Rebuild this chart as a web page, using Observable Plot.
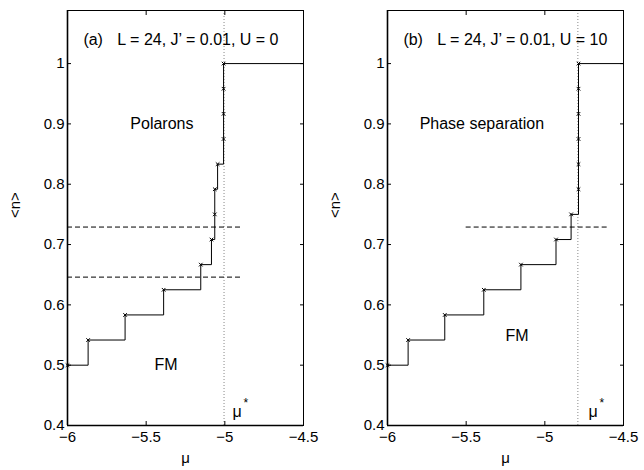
<!DOCTYPE html>
<html><head><meta charset="utf-8">
<script src="https://cdn.jsdelivr.net/npm/d3@7"></script>
<script src="https://cdn.jsdelivr.net/npm/@observablehq/plot@0.6"></script>
<style>
body{margin:0;background:#fff}
#wrap{display:flex;width:644px;height:470px}
</style>
</head><body><div id="wrap"></div>
<script>
// Panel (a): U = 0
const muA = [-6, -5.869, -5.634, -5.389, -5.153, -5.085, -5.064, -5.064, -5.046, -5.008, -5.008, -5.008, -5.008, -4.5];
const nA  = [0.5, 0.5417, 0.5833, 0.625, 0.6667, 0.7083, 0.75, 0.7917, 0.8333, 0.875, 0.9167, 0.9583, 1, 1];
const muStarA = -5.005;
const dashYA = [0.646, 0.729];
const dashXA = [-6, -4.9];
// Panel (b): U = 10
const muB = [-6, -5.869, -5.636, -5.388, -5.152, -4.929, -4.833, -4.786, -4.786, -4.786, -4.786, -4.786, -4.786, -4.5];
const nB  = [0.5, 0.5417, 0.5833, 0.625, 0.6667, 0.7083, 0.75, 0.7917, 0.8333, 0.875, 0.9167, 0.9583, 1, 1];
const muStarB = -4.79;
const dashYB = [0.729];
const dashXB = [-5.5, -4.6];

const xTicks = [-6, -5.5, -5, -4.5];
const yTicks = [0.4, 0.5, 0.6, 0.7, 0.8, 0.9, 1];
const xDomain = [-6, -4.5];
const yDomain = [0.4, 1.088];

const font = "'Liberation Sans', Arial, Helvetica, sans-serif";
const fmt = d => String(d).replace("-", "\u2212");

function panel(cfg) {
  const pts = cfg.mu.map((m, i) => ({mu: m, n: cfg.n[i]}));
  const marks = pts.slice(0, -1);
  return Plot.plot({
    width: cfg.width, height: 470,
    marginLeft: 67, marginRight: cfg.marginRight, marginTop: 10, marginBottom: 45,
    style: {fontFamily: font, fontSize: "15px", color: "#000", background: "#fff"},
    x: {domain: xDomain},
    y: {domain: yDomain},
    marks: [
      Plot.ruleX([cfg.muStar], {stroke: "#888", strokeDasharray: "1,2", strokeWidth: 1}),
      Plot.ruleY(cfg.dashY, {x1: cfg.dashX[0], x2: cfg.dashX[1], stroke: "#000", strokeDasharray: "5,3", strokeWidth: 1}),
      Plot.line(pts, {x: "mu", y: "n", curve: "step-after", stroke: "#000", strokeWidth: 1}),
      Plot.dot(marks, {x: "mu", y: "n", symbol: "times", r: 1.8, stroke: "#000", strokeWidth: 1}),
      Plot.frame({stroke: "#000", strokeWidth: 1}),
      Plot.ruleX([xDomain[0]], {stroke: "#000", strokeWidth: 1.6}),
      Plot.ruleY([yDomain[0]], {stroke: "#000", strokeWidth: 1.6}),
      Plot.axisX(xTicks, {anchor: "bottom", tickSize: -4, tickPadding: 10, tickFormat: fmt, label: null, fontSize: 15}),
      Plot.axisX(xTicks, {anchor: "top", tickSize: -4, tickFormat: () => "", label: null}),
      Plot.axisY(yTicks, {anchor: "left", tickSize: -4, tickPadding: 7, tickFormat: d => String(d), label: null, fontSize: 15}),
      Plot.axisY(yTicks, {anchor: "right", tickSize: -4, tickFormat: () => "", label: null}),
      Plot.text(["<n>"], {text: d => d, frameAnchor: "left", dx: -52, rotate: -90, fontSize: 15}),
      Plot.text(["\u03bc"], {text: d => d, frameAnchor: "bottom", dy: 37, fontSize: 15}),
      Plot.text([cfg.tag], {text: d => d, x: -5.899, y: 1.039, textAnchor: "start", fontSize: 16}),
      Plot.text([cfg.params], {text: d => d, x: -5.683, y: 1.039, textAnchor: "start", fontSize: 16}),
      Plot.text([cfg.region], {text: d => d, x: -5.40, y: 0.9, fontSize: 16}),
      Plot.text(["FM"], {text: d => d, x: cfg.fmX, y: cfg.fmY, fontSize: 16}),
      Plot.text(["\u03bc"], {text: d => d, x: cfg.starX, y: 0.423, textAnchor: "start", fontSize: 16}),
      Plot.text(["*"], {text: d => d, x: cfg.starX, y: 0.423, dx: 11, dy: -8, textAnchor: "start", fontSize: 12})
    ]
  });
}

const wrap = document.getElementById("wrap");
wrap.appendChild(panel({
  mu: muA, n: nA, muStar: muStarA, dashY: dashYA, dashX: dashXA,
  tag: "(a)", params: "L = 24, J\u2019 = 0.01, U = 0", region: "Polarons",
  fmX: -5.373, fmY: 0.5, starX: -4.952, width: 320, marginRight: 17
}));
wrap.appendChild(panel({
  mu: muB, n: nB, muStar: muStarB, dashY: dashYB, dashX: dashXB,
  tag: "(b)", params: "L = 24, J\u2019 = 0.01, U = 10", region: "Phase separation",
  fmX: -5.176, fmY: 0.549, starX: -4.722, width: 324, marginRight: 21
}));
</script>
</body></html>
